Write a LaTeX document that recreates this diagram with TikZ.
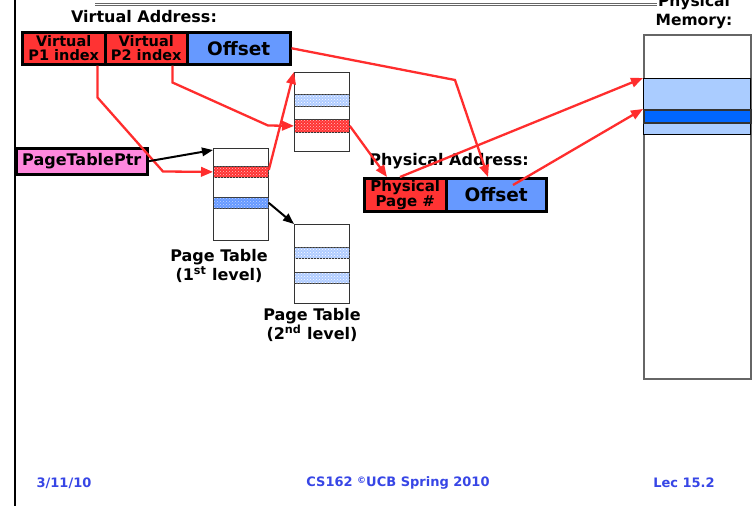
\documentclass[tikz,border=0pt]{standalone}
\usepackage{fontspec}
\setmainfont{DejaVu Sans}
\usetikzlibrary{patterns,arrows.meta}
\definecolor{myred}{RGB}{255,51,51}
\definecolor{arrred}{RGB}{255,45,45}
\definecolor{myblue}{RGB}{102,153,255}
\definecolor{paleblue}{RGB}{176,204,255}
\definecolor{lightblue}{RGB}{170,204,255}
\definecolor{deepblue}{RGB}{0,102,255}
\definecolor{mypink}{RGB}{255,136,221}
\definecolor{footblue}{RGB}{55,70,230}
\newcommand\myfs[2]{\fontsize{#1}{#2}\selectfont\bfseries}
\begin{document}
\begin{tikzpicture}[x=1pt,y=-1pt,
  addr/.style={draw=black,line width=2.5pt,inner sep=0pt,anchor=north west,align=center,minimum height=32pt},
  tbl/.style={draw=black!80,line width=0.8pt,fill=white,inner sep=0pt,anchor=north west,minimum width=55pt},
  rowbase/.style={draw=black!80,line width=0.8pt,inner sep=0pt,anchor=north west,minimum width=55pt},
  redrow/.style={rowbase,fill=myred,postaction={pattern=crosshatch dots,pattern color=white!70!myred}},
  bluerow/.style={rowbase,fill=myblue,postaction={pattern=crosshatch dots,pattern color=white!60!myblue}},
  palerow/.style={rowbase,fill=paleblue,postaction={pattern=crosshatch dots,pattern color=white}},
  title/.style={font=\myfs{16pt}{19pt},align=center,inner sep=0pt},
  lbl/.style={font=\myfs{16pt}{16pt},align=center,inner sep=0pt},
  foot/.style={font=\myfs{13pt}{14pt},text=footblue,inner sep=0pt},
  redarrow/.style={draw=arrred,line width=2.3pt,-{Triangle[length=12pt,width=9.5pt]}},
  blackarrow/.style={draw=black,line width=2pt,-{Triangle[length=11pt,width=8.5pt]}}
]
\useasboundingbox (0,0) rectangle (756,506);
\fill[white] (0,0) rectangle (756,506);
% frame lines
\draw[line width=2pt] (15,0) -- (15,506);
\draw[black!60,line width=0.8pt] (95,3.4) -- (657,3.4);
\draw[black!60,line width=0.8pt] (95,5.8) -- (657,5.8);

% virtual address
\node[title] (vatitle) at (144,17) {Virtual Address:};
\node[addr,fill=myred,minimum width=83pt,font=\myfs{14.5pt}{13.5pt}] (p1) at (21,31) {Virtual\\P1 index};
\node[addr,fill=myred,minimum width=82pt,font=\myfs{14.5pt}{13.5pt}] (p2) at (104,31) {Virtual\\P2 index};
\node[addr,fill=myblue,minimum width=103pt,font=\myfs{18.5pt}{18pt}] (off) at (186,31) {Offset};

% page table pointer
\node[addr,fill=mypink,minimum width=131pt,minimum height=26pt,font=\myfs{16pt}{16pt}] (ptp) at (15,147) {PageTablePtr};

% first level page table
\node[tbl,minimum height=92pt] (pt1) at (213,148) {};
\node[redrow,minimum height=11pt] (pt1r) at (213,166) {};
\node[bluerow,minimum height=11pt] (pt1b) at (213,197) {};
\node[lbl] (lbl1) at (219,266) {Page Table\\(1\textsuperscript{st} level)};

% second level page table (upper)
\node[tbl,minimum height=79pt] (pt2a) at (294,72) {};
\node[palerow,minimum height=12pt] (pt2ab) at (294,94) {};
\node[redrow,minimum height=13pt] (pt2ar) at (294,119) {};

% second level page table (lower)
\node[tbl,minimum height=79pt] (pt2b) at (294,224) {};
\node[palerow,minimum height=11pt] (pt2bb1) at (294,247) {};
\node[palerow,minimum height=11pt] (pt2bb2) at (294,272) {};
\node[lbl] (lbl2) at (312,325) {Page Table\\(2\textsuperscript{nd} level)};

% physical address
\node[title] (patitle) at (449,161) {Physical Address:};
\node[addr,fill=myred,minimum width=82pt,minimum height=33pt,font=\myfs{15pt}{13.5pt}] (ppn) at (363,177) {Physical\\Page \#};
\node[addr,fill=myblue,minimum width=100pt,minimum height=33pt,font=\myfs{18.5pt}{18pt}] (poff) at (445,177) {Offset};

% physical memory
\node[title,font=\myfs{15.5pt}{19pt}] (memtitle) at (694,12) {Physical\\Memory:};
\node[draw=black!60,line width=1.5pt,inner sep=0pt,anchor=north west,minimum width=107pt,minimum height=344pt] (mem) at (643,34) {};
\node[draw=black,line width=1pt,fill=lightblue,inner sep=0pt,anchor=north west,minimum width=107pt,minimum height=56pt] (mlb) at (643,78) {};
\node[draw=black!80,line width=1.5pt,fill=deepblue,inner sep=0pt,anchor=north west,minimum width=107pt,minimum height=13pt] (mdb) at (643,109) {};

% red arrows
\draw[redarrow] ([xshift=-9pt]p1.south east) -- ++(0,32) -- (163,171.5) -- (pt1r.west);
\draw[redarrow] ([xshift=-16pt]p2.south east) -- ++(0,17) -- (268,125.5) -- (pt2ar.west);
\draw[redarrow] ([yshift=2pt]pt1r.east) -- (pt2a.north west);
\draw[redarrow] (pt2ar.east) -- ([xshift=24pt]ppn.north west);
\draw[redarrow] (off.east) -- (455,80) -- ([xshift=43pt]poff.north west);
\draw[redarrow] ([xshift=37pt]ppn.north west) -- (mlb.north west);
\draw[redarrow] ([xshift=68pt,yshift=-8pt]poff.north west) -- (mdb.north west);

% black arrows
\draw[blackarrow] (ptp.east) -- ([yshift=-2pt]pt1.north west);
\draw[blackarrow] (pt1b.east) -- (pt2b.north west);

% footer
\node[foot] (fdate) at (64,483) {3/11/10};
\node[foot] (fcourse) at (398,483) {CS162 \raisebox{0.45ex}{\myfs{9pt}{10pt}©}UCB Spring 2010};
\node[foot] (flec) at (684,483) {Lec 15.2};
\end{tikzpicture}
\end{document}
